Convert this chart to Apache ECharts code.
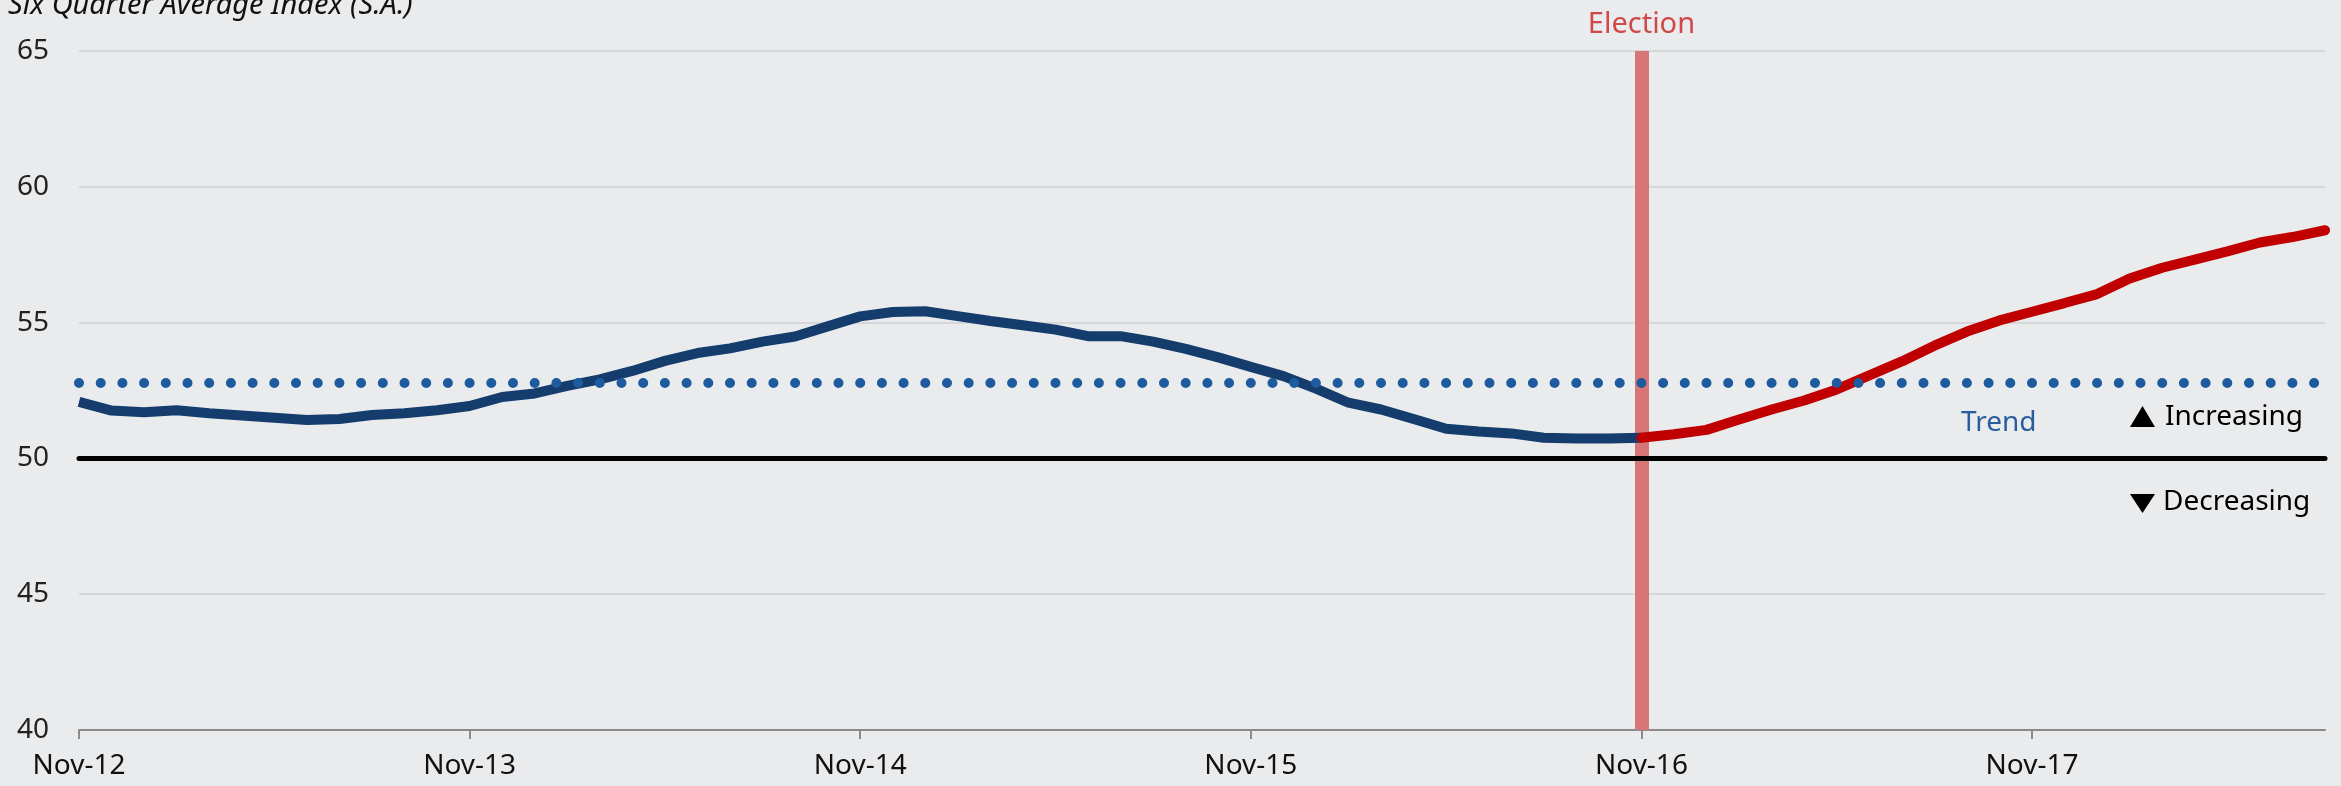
<!DOCTYPE html>
<html>
<head>
<meta charset="utf-8">
<script src="https://cdn.jsdelivr.net/npm/echarts@6/dist/echarts.min.js"></script>
<style>
  html, body { margin: 0; padding: 0; background: #eaebed; }
  #chart { width: 2341px; height: 786px; }
</style>
</head>
<body>
<div id="chart"></div>
<script>
// month labels, Nov-12 .. Aug-18
const monthNames = ["Jan", "Feb", "Mar", "Apr", "May", "Jun", "Jul", "Aug", "Sep", "Oct", "Nov", "Dec"];
const categories = [];
for (let i = 0; i < 70; i++) {
    const m = (10 + i) % 12;
    const y = 2012 + Math.floor((10 + i) / 12);
    categories.push(monthNames[m] + "-" + String(y).slice(2));
}

// six quarter average index, up to and including Nov-16
const beforeElection = [
    52.08, 51.76, 51.70, 51.77, 51.66, 51.58, 51.50, 51.41, 51.45, 51.60,
    51.66, 51.77, 51.93, 52.26, 52.39, 52.67, 52.91, 53.22, 53.59, 53.88,
    54.05, 54.30, 54.49, 54.86, 55.23, 55.39, 55.42, 55.24, 55.06, 54.90,
    54.74, 54.50, 54.50, 54.30, 54.03, 53.72, 53.37, 53.03, 52.57, 52.05,
    51.80, 51.45, 51.09, 50.99, 50.92, 50.76, 50.73, 50.73, 50.76
];
// from Nov-16 onward
const afterElection = [
    50.76, 50.89, 51.05, 51.43, 51.80, 52.13, 52.54, 53.06, 53.57, 54.15,
    54.67, 55.08, 55.40, 55.72, 56.05, 56.62, 57.02, 57.32, 57.62, 57.95,
    58.15, 58.40
];

const electionMonth = "Nov-16";
const trendValue = 52.8;
const neutralValue = 50;
const yMin = 40, yMax = 65, yStep = 5;

const pad = (n) => new Array(n).fill(null);
const blueData = beforeElection.concat(pad(categories.length - beforeElection.length));
const redData = pad(categories.length - afterElection.length).concat(afterElection);

const FONT = '"Noto Sans", "DejaVu Sans", sans-serif';

const chart = echarts.init(document.getElementById("chart"));

const option = {
    animation: false,
    backgroundColor: "#eaebed",
    grid: { left: 79, right: 16, top: 51, bottom: 56 },
    xAxis: {
        type: "category",
        data: categories,
        boundaryGap: false,
        axisLine: { show: true, lineStyle: { color: "#8a8a8a", width: 2 } },
        axisTick: { show: true, interval: 11, length: 9, lineStyle: { color: "#8a8a8a", width: 2 } },
        axisLabel: { interval: 11, color: "#111", fontSize: 28, fontFamily: FONT, margin: 22 },
        splitLine: { show: false }
    },
    yAxis: {
        type: "value",
        min: yMin,
        max: yMax,
        interval: yStep,
        axisLine: { show: false },
        axisTick: { show: false },
        axisLabel: { color: "#222", fontSize: 28, fontFamily: FONT, margin: 30 },
        splitLine: { lineStyle: { color: "#d6d7da", width: 2 } }
    },
    graphic: [
        {
            type: "text", left: 8, top: -9, z: 10,
            style: { text: "Six Quarter Average Index (S.A.)", font: "italic 29px " + FONT, fill: "#111" }
        },
        {
            type: "text", x: 1961, y: 423, z: 10,
            style: { text: "Trend", font: "28px " + FONT, fill: "#2a5d9f", verticalAlign: "middle" }
        },
        {
            type: "polygon", z: 10,
            shape: { points: [[2130, 427], [2155, 427], [2142.5, 406]] },
            style: { fill: "#000" }
        },
        {
            type: "text", x: 2165, y: 417, z: 10,
            style: { text: "Increasing", font: "28px " + FONT, fill: "#000", verticalAlign: "middle" }
        },
        {
            type: "polygon", z: 10,
            shape: { points: [[2130, 494], [2155, 494], [2142.5, 513]] },
            style: { fill: "#000" }
        },
        {
            type: "text", x: 2163, y: 502, z: 10,
            style: { text: "Decreasing", font: "28px " + FONT, fill: "#000", verticalAlign: "middle" }
        }
    ],
    series: [
        {
            name: "Election",
            type: "line",
            data: [],
            markLine: {
                z: 1,
                silent: true,
                symbol: "none",
                lineStyle: { color: "#d77676", width: 14, type: "solid" },
                label: {
                    show: true, position: "end", formatter: "Election",
                    color: "#d04848", fontSize: 29, fontFamily: FONT, distance: 12
                },
                data: [{ xAxis: electionMonth }]
            }
        },
        {
            name: "Neutral",
            type: "line",
            data: [],
            markLine: {
                z: 2,
                silent: true,
                symbol: "none",
                label: { show: false },
                lineStyle: { color: "#000", width: 5, type: "solid", cap: "round" },
                data: [{ yAxis: neutralValue }]
            }
        },
        {
            name: "Index",
            type: "line",
            z: 3,
            data: blueData,
            showSymbol: false,
            lineStyle: { color: "#143c6c", width: 10 }
        },
        {
            name: "Index since election",
            type: "line",
            z: 4,
            data: redData,
            showSymbol: false,
            lineStyle: { color: "#c00000", width: 10, cap: "round" }
        },
        {
            name: "Trend",
            type: "line",
            data: [],
            markLine: {
                z: 6,
                silent: true,
                symbol: "none",
                label: { show: false },
                lineStyle: { color: "#1e5a9e", width: 10, type: [0, 21.7], cap: "round" },
                data: [{ yAxis: trendValue }]
            }
        }
    ]
};

chart.setOption(option);
</script>
</body>
</html>
